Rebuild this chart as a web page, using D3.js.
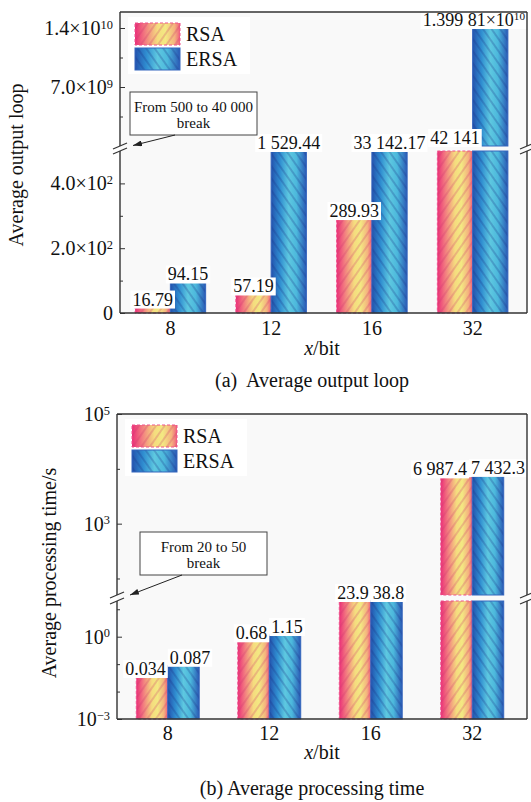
<!DOCTYPE html>
<html>
<head>
<meta charset="UTF-8">
<title>RSA vs ERSA</title>
<script src="https://cdnjs.cloudflare.com/ajax/libs/d3/7.8.5/d3.min.js"></script>
</head>
<body style="margin:0;background:#fff">
<svg id="chart" width="531" height="802"></svg>
<script>
var categories = ["8", "12", "16", "32"];
var seriesNames = ["RSA", "ERSA"];

// (a) average output loop
var loopRSA = [16.79, 57.19, 289.93, 42141];
var loopERSA = [94.15, 1529.44, 33142.17, 1.39981e10];
var loopLabelsRSA = ["16.79", "57.19", "289.93", "42 141"];
var loopLabelsERSA = ["94.15", "1 529.44", "33 142.17", "1.399 81×10^10"];
var loopLowTicks = [0, 200, 400];
var loopLowTickLabels = ["0", "2.0×10^2", "4.0×10^2"];
var loopLowMinor = [100, 300];
var loopHighTicks = [7e9, 1.4e10];
var loopHighTickLabels = ["7.0×10^9", "1.4×10^10"];
var loopHighMinor = [3.5e9, 1.05e10];

// (b) average processing time
var timeRSA = [0.034, 0.68, 23.9, 6987.4];
var timeERSA = [0.087, 1.15, 38.8, 7432.3];
var timeLabelsRSA = ["0.034", "0.68", "23.9", "6 987.4"];
var timeLabelsERSA = ["0.087", "1.15", "38.8", "7 432.3"];
var timeLowTicks = [1e-3, 1];
var timeLowTickLabels = ["10^\u22123", "10^0"];
var timeLowMinor = [1e-2, 1e-1, 10];
var timeHighTicks = [1e3, 1e5];
var timeHighTickLabels = ["10^3", "10^5"];
var timeHighMinor = [1e2, 1e4];

var FONT = "Liberation Serif";

var svg = d3.select("#chart");
var defs = svg.append("defs");

function gradient(id, stops) {
	var g = defs.append("linearGradient").attr("id", id)
		.attr("x1", 0).attr("x2", 1).attr("y1", 0).attr("y2", 0);
	stops.forEach(s => g.append("stop").attr("offset", s[0]).attr("stop-color", s[1]));
}
gradient("gRSA", [[0, "#ea2f78"], [0.22, "#f27a80"], [0.5, "#f5dc7e"], [0.68, "#f3e982"], [0.88, "#f4b27e"], [1, "#ef5f7c"]]);
gradient("gERSA", [[0, "#2352ad"], [0.25, "#2f8dd0"], [0.5, "#5ec8e0"], [0.72, "#4cb8dc"], [1, "#2958b4"]]);

function hatch(id, angle, color) {
	var p = defs.append("pattern").attr("id", id)
		.attr("patternUnits", "userSpaceOnUse")
		.attr("width", 7).attr("height", 7)
		.attr("patternTransform", "rotate(" + angle + ")");
	p.append("line").attr("x1", 1).attr("x2", 1).attr("y1", 0).attr("y2", 7)
		.attr("stroke", color).attr("stroke-width", 0.9);
}
hatch("hRSA", 35, "rgba(205,50,110,0.55)");
hatch("hERSA", -35, "rgba(25,45,130,0.55)");

defs.append("marker").attr("id", "arrow")
	.attr("markerUnits", "userSpaceOnUse")
	.attr("markerWidth", 9).attr("markerHeight", 6)
	.attr("refX", 9).attr("refY", 3).attr("orient", "auto")
	.append("path").attr("d", "M0,0L9,3L0,6z").attr("fill", "#222");

var fills = { RSA: "url(#gRSA)", ERSA: "url(#gERSA)" };
var hatches = { RSA: "url(#hRSA)", ERSA: "url(#hERSA)" };
var strokes = { RSA: "#f0508c", ERSA: "#3566bd" };
var dashes = { RSA: "3,2", ERSA: null };

function supText(sel, str) {
	var parts = str.split("^");
	sel.text(null);
	sel.append("tspan").text(parts[0]);
	if (parts.length > 1) {
		sel.append("tspan").attr("dy", "-0.5em").attr("font-size", "0.62em").text(parts[1]);
	}
}

function swatch(g, name, x, y, w, h) {
	g.append("rect").attr("x", x).attr("y", y).attr("width", w).attr("height", h)
		.attr("fill", fills[name]);
	g.append("rect").attr("x", x).attr("y", y).attr("width", w).attr("height", h)
		.attr("fill", hatches[name]).attr("stroke", strokes[name])
		.attr("stroke-dasharray", dashes[name]).attr("stroke-width", 1);
}

function txt(g) {
	return g.append("text").style("font-family", FONT).attr("fill", "#111");
}

function drawPanel(c) {
	var g = svg.append("g");
	var gapTop = c.high.range()[0];
	var gapBot = c.low.range()[1];
	var base = c.low.range()[0];

	g.append("rect").attr("x", c.left).attr("y", c.top)
		.attr("width", c.right - c.left).attr("height", c.bottom - c.top)
		.attr("fill", "#f9f9f9");

	var x = d3.scaleBand().domain(categories).range([c.left, c.right - 4])
		.paddingInner(c.padIn).paddingOuter(c.padOut);
	var xs = d3.scaleBand().domain(seriesNames).range([0, x.bandwidth()]);

	var series = { RSA: c.rsa, ERSA: c.ersa };
	var labelText = { RSA: c.labR, ERSA: c.labE };

	// bars
	var labels = [];
	categories.forEach((cat, i) => {
		seriesNames.forEach(name => {
			var v = series[name][i];
			var bx = x(cat) + xs(name);
			var bw = xs.bandwidth();
			var yLow = c.low(Math.min(v, c.lowMax));
			swatch(g, name, bx, yLow, bw, base - yLow);
			var topY = yLow;
			if (v > c.highMin) {
				var yHigh = c.high(v);
				if (gapTop - yHigh > 0.5) swatch(g, name, bx, yHigh, bw, gapTop - yHigh);
				topY = Math.min(yHigh, gapTop);
			}
			labels.push({ i: i, name: name, text: labelText[name][i], cx: bx + bw / 2, y: topY - 2 });
		});
	});

	// value labels, pushed apart where a pair would collide
	var lg = g.append("g");
	labels.forEach(d => {
		d.bg = lg.append("rect").attr("fill", "#fff");
		d.el = txt(lg).attr("font-size", 18).attr("y", d.y);
		supText(d.el, d.text);
	});
	labels.forEach(d => { d.w = d.el.node().getComputedTextLength(); });
	categories.forEach((cat, i) => {
		var a = labels.find(d => d.i === i && d.name === "RSA");
		var b = labels.find(d => d.i === i && d.name === "ERSA");
		var close = Math.abs(a.y - b.y) < 15;
		if (close) {
			var ov = (a.cx + a.w / 2) - (b.cx - b.w / 2) + 4;
			if (ov > 0) { a.cx -= ov / 2; b.cx += ov / 2; }
		}
		var over = b.cx + b.w / 2 - (c.right - 2);
		if (over > 0) { b.cx -= over; if (close) a.cx -= over; }
	});
	labels.forEach(d => {
		d.el.attr("x", d.cx - d.w / 2);
		d.bg.attr("x", d.cx - d.w / 2 - 2).attr("y", d.y - 15)
			.attr("width", d.w + 4).attr("height", 18);
	});

	// axes
	function yAxis(scale, ticks, tickLabels, minor) {
		var ax = g.append("g").attr("transform", "translate(" + c.left + ",0)")
			.call(d3.axisLeft(scale).tickValues(ticks).tickSizeInner(-5).tickSizeOuter(0)
				.tickPadding(7).tickFormat((d, i) => tickLabels[i]));
		ax.attr("font-family", null).attr("font-size", null);
		ax.select(".domain").remove();
		ax.selectAll("line").attr("stroke", "#333");
		ax.selectAll("text").attr("font-size", 20).style("font-family", FONT).attr("fill", "#111")
			.each(function (d, i) { supText(d3.select(this), tickLabels[i]); });
		var mx = g.append("g").attr("transform", "translate(" + c.left + ",0)")
			.call(d3.axisLeft(scale).tickValues(minor).tickSizeInner(-3).tickSizeOuter(0).tickFormat(""));
		mx.select(".domain").remove();
		mx.selectAll("line").attr("stroke", "#333");
	}
	yAxis(c.low, c.lowTicks, c.lowTickLabels, c.lowMinor);
	yAxis(c.high, c.highTicks, c.highTickLabels, c.highMinor);

	var xa = g.append("g").attr("transform", "translate(0," + c.bottom + ")")
		.call(d3.axisBottom(x).tickSize(0).tickPadding(c.xPad));
	xa.attr("font-family", null).attr("font-size", null);
	xa.select(".domain").remove();
	xa.selectAll("text").attr("font-size", 20).style("font-family", FONT).attr("fill", "#111");

	// frame with breaks
	var fr = g.append("g").attr("stroke", "#333").attr("stroke-width", 1.4).attr("fill", "none");
	fr.append("line").attr("x1", c.left).attr("x2", c.right).attr("y1", c.top).attr("y2", c.top);
	fr.append("line").attr("x1", c.left).attr("x2", c.right).attr("y1", c.bottom).attr("y2", c.bottom);
	[c.left, c.right].forEach(xx => {
		fr.append("line").attr("x1", xx).attr("x2", xx).attr("y1", c.top).attr("y2", gapTop);
		fr.append("line").attr("x1", xx).attr("x2", xx).attr("y1", gapBot).attr("y2", c.bottom);
		[gapTop, gapBot].forEach(yy => {
			fr.append("line").attr("x1", xx - 7).attr("x2", xx + 7)
				.attr("y1", yy + 3).attr("y2", yy - 3).attr("stroke-width", 1.2);
		});
	});

	// legend
	var lgd = g.append("g");
	lgd.append("rect").attr("x", c.left + 8).attr("y", c.top + 5)
		.attr("width", 122).attr("height", 57).attr("fill", "#fff");
	seriesNames.forEach((name, k) => {
		var sy = c.top + 11 + k * 25;
		swatch(lgd, name, c.left + 15, sy, 45, 22);
		txt(lgd).attr("x", c.left + 66).attr("y", sy + 18)
			.attr("font-size", 20).text(name);
	});

	// break annotation
	var an = g.append("g");
	an.append("rect").attr("x", c.boxX).attr("y", c.boxY).attr("width", 127).attr("height", 43)
		.attr("fill", "#fff").attr("stroke", "#444").attr("stroke-width", 1);
	c.boxLines.forEach((t, k) => {
		txt(an).attr("x", c.boxX + 63.5).attr("y", c.boxY + 20 + k * 15.5)
			.attr("text-anchor", "middle").attr("font-size", 15).text(t);
	});
	an.append("line").attr("x1", c.boxX + c.arrowFrom).attr("y1", c.boxY + 43)
		.attr("x2", c.left + 13).attr("y2", (gapTop + gapBot) / 2 - 3)
		.attr("stroke", "#222").attr("stroke-width", 1).attr("marker-end", "url(#arrow)");

	// titles
	txt(g).attr("transform", "translate(" + c.yTitleX + "," + c.yTitleY + ") rotate(-90)")
		.attr("text-anchor", "middle").attr("font-size", 20).text(c.yTitle);
	var xt = txt(g).attr("x", 322).attr("y", c.xTitleY)
		.attr("text-anchor", "middle").attr("font-size", 20);
	xt.append("tspan").attr("font-style", "italic").text("x");
	xt.append("tspan").text("/bit");
	txt(g).attr("x", 312).attr("y", c.captionY).attr("text-anchor", "middle")
		.attr("font-size", 20).attr("xml:space", "preserve").text(c.caption);
}

drawPanel({
	top: 12, bottom: 313, left: 120, right: 527,
	low: d3.scaleLinear().domain([0, 500]).range([313, 151]),
	high: d3.scaleLinear().domain([40000, 1.59e10]).range([146, 12]),
	lowMax: 500, highMin: 40000,
	padIn: 0.3, padOut: 0.15,
	rsa: loopRSA, ersa: loopERSA, labR: loopLabelsRSA, labE: loopLabelsERSA,
	lowTicks: loopLowTicks, lowTickLabels: loopLowTickLabels, lowMinor: loopLowMinor,
	highTicks: loopHighTicks, highTickLabels: loopHighTickLabels, highMinor: loopHighMinor,
	xPad: 8,
	boxX: 130, boxY: 92, boxLines: ["From 500 to 40 000", "break"], arrowFrom: 45,
	yTitle: "Average output loop", yTitleX: 23, yTitleY: 165,
	xTitleY: 355, caption: "(a)\u00a0 Average output loop", captionY: 387
});

drawPanel({
	top: 414, bottom: 719, left: 117, right: 527,
	low: d3.scaleLog().domain([1e-3, 20]).range([719, 601]),
	high: d3.scaleLog().domain([50, 1e5]).range([595, 414]),
	lowMax: 20, highMin: 50,
	padIn: 0.38, padOut: 0.19,
	rsa: timeRSA, ersa: timeERSA, labR: timeLabelsRSA, labE: timeLabelsERSA,
	lowTicks: timeLowTicks, lowTickLabels: timeLowTickLabels, lowMinor: timeLowMinor,
	highTicks: timeHighTicks, highTickLabels: timeHighTickLabels, highMinor: timeHighMinor,
	xPad: 7,
	boxX: 140, boxY: 532, boxLines: ["From 20 to 50", "break"], arrowFrom: 42,
	yTitle: "Average processing time/s", yTitleX: 56, yTitleY: 573,
	xTitleY: 759, caption: "(b) Average processing time", captionY: 795
});
</script>
</body>
</html>
